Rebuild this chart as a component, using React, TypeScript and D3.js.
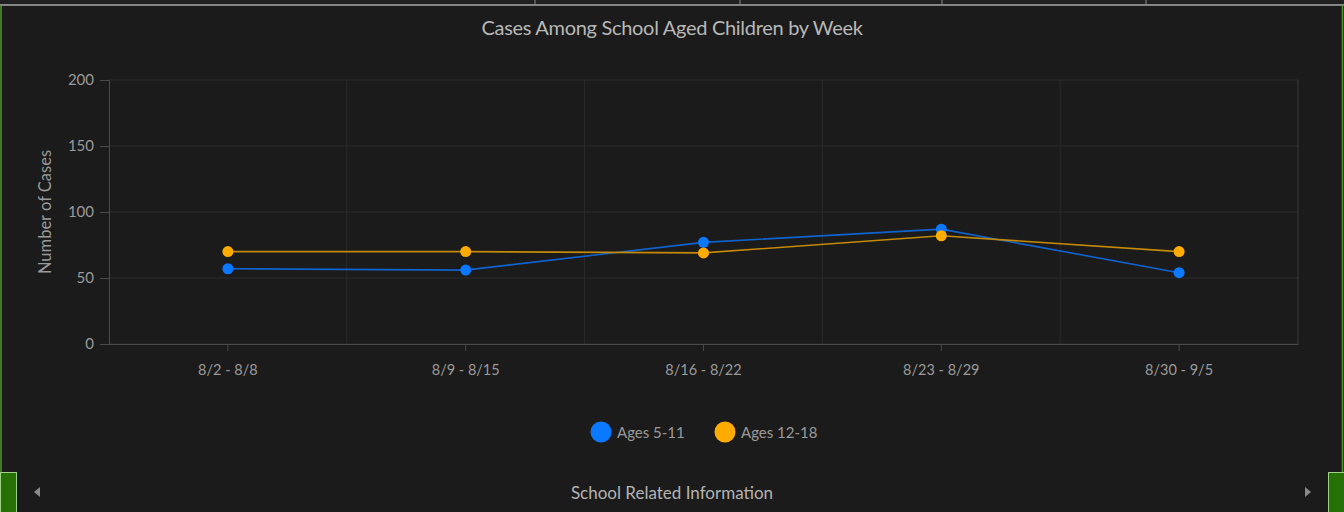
import React, { useEffect, useRef } from 'react';
import * as d3 from 'd3';

const weeks = ['8/2 - 8/8', '8/9 - 8/15', '8/16 - 8/22', '8/23 - 8/29', '8/30 - 9/5'];
const ages5to11 = [57, 56, 77, 87, 54];
const ages12to18 = [70, 70, 69, 82, 70];
const seriesNames = ['Ages 5-11', 'Ages 12-18'];
const yTicks = [0, 50, 100, 150, 200];

const W = 1344;
const H = 512;
const FONT = 'Lato, "Open Sans", sans-serif';

const App = () => {
  const ref = useRef(null);

  useEffect(() => {
    const svg = d3.select(ref.current);
    svg.selectAll('*').remove();

    const left = 109, right = 1298, top = 80, bottom = 344;

    svg.append('rect').attr('width', W).attr('height', H).attr('fill', '#1b1b1b');

    // top tab strip
    svg.append('rect').attr('width', W).attr('height', 5).attr('fill', '#202020');
    svg.append('line').attr('x1', 0).attr('x2', W).attr('y1', 5).attr('y2', 5)
      .attr('stroke', '#a8a8a8').attr('stroke-width', 1.5);
    [535, 740, 942, 1146].forEach(x => {
      svg.append('line').attr('x1', x).attr('x2', x).attr('y1', 0).attr('y2', 5)
        .attr('stroke', '#8a8a8a');
    });

    // green side borders
    svg.append('line').attr('x1', 1).attr('x2', 1).attr('y1', 5).attr('y2', 472)
      .attr('stroke', '#4f9a2a').attr('stroke-width', 1.5);
    svg.append('line').attr('x1', 1342.5).attr('x2', 1342.5).attr('y1', 5).attr('y2', 472)
      .attr('stroke', '#4f9a2a').attr('stroke-width', 1.5);
    svg.append('rect').attr('x', 0.5).attr('y', 472.5).attr('width', 16).attr('height', 40)
      .attr('fill', '#267006').attr('stroke', '#9fd08a').attr('stroke-width', 1);
    svg.append('rect').attr('x', 1328.5).attr('y', 472.5).attr('width', 16).attr('height', 40)
      .attr('fill', '#267006').attr('stroke', '#9fd08a').attr('stroke-width', 1);

    svg.append('text').attr('x', 672).attr('y', 35).attr('text-anchor', 'middle')
      .attr('font-family', FONT).attr('font-size', 20).attr('fill', '#b8b8b8')
      .attr('letter-spacing', -0.3)
      .text('Cases Among School Aged Children by Week');

    const x = d3.scaleBand().domain(weeks).range([left, right]);
    const y = d3.scaleLinear().domain([0, 200]).range([bottom, top]);

    const grid = svg.append('g');
    yTicks.forEach(t => {
      grid.append('line').attr('x1', left).attr('x2', right).attr('y1', y(t)).attr('y2', y(t))
        .attr('stroke', '#2d2d2d');
    });
    weeks.forEach(w => {
      const xe = x(w) + x.bandwidth();
      grid.append('line').attr('x1', xe).attr('x2', xe).attr('y1', top).attr('y2', bottom)
        .attr('stroke', xe > right - 2 ? '#3a3a3a' : '#2a2a2a');
    });

    const yAxis = svg.append('g').attr('transform', `translate(${left},0)`)
      .call(d3.axisLeft(y).tickValues(yTicks).tickSize(9).tickPadding(6));
    yAxis.select('.domain').attr('stroke', '#4a4a4a');
    yAxis.selectAll('line').attr('stroke', '#4a4a4a');
    yAxis.selectAll('text').attr('fill', '#9a9a9a').attr('font-size', 15).attr('font-family', FONT);

    const xAxis = svg.append('g').attr('transform', `translate(0,${bottom})`)
      .call(d3.axisBottom(x).tickSize(7).tickPadding(14).tickSizeOuter(0));
    xAxis.select('.domain').attr('stroke', '#4a4a4a');
    xAxis.selectAll('line').attr('stroke', '#4a4a4a');
    xAxis.selectAll('text').attr('fill', '#9a9a9a').attr('font-size', 14.5).attr('font-family', FONT);

    svg.append('text').attr('transform', `translate(51,${(top + bottom) / 2}) rotate(-90)`)
      .attr('text-anchor', 'middle').attr('font-family', FONT).attr('font-size', 16.5)
      .attr('fill', '#9a9a9a').text('Number of Cases');

    const cx = d => x(d) + x.bandwidth() / 2;
    const series = [
      { name: seriesNames[0], values: ages5to11, line: '#0f63d0', dot: '#0a78ff' },
      { name: seriesNames[1], values: ages12to18, line: '#c48a06', dot: '#ffab00' },
    ];
    const lineGen = d3.line().x(d => d[0]).y(d => d[1]);
    series.forEach(s => {
      const pts = s.values.map((v, i) => [cx(weeks[i]), y(v)]);
      svg.append('path').attr('d', lineGen(pts)).attr('fill', 'none')
        .attr('stroke', s.line).attr('stroke-width', 1.6);
      svg.append('g').selectAll('circle').data(pts).enter().append('circle')
        .attr('cx', d => d[0]).attr('cy', d => d[1]).attr('r', 5.5).attr('fill', s.dot);
    });

    // legend
    const legendX = [601, 725];
    series.forEach((s, i) => {
      svg.append('circle').attr('cx', legendX[i]).attr('cy', 432).attr('r', 10.5).attr('fill', s.dot);
      svg.append('text').attr('x', legendX[i] + 16).attr('y', 437.5)
        .attr('font-family', FONT).attr('font-size', 15).attr('fill', '#9a9a9a').text(s.name);
    });

    // footer
    svg.append('text').attr('x', 672).attr('y', 499).attr('text-anchor', 'middle')
      .attr('font-family', FONT).attr('font-size', 17).attr('fill', '#b4b4b4')
      .text('School Related Information');
    svg.append('path').attr('d', 'M40,487 L34,492 L40,497 Z').attr('fill', '#8a8a8a');
    svg.append('path').attr('d', 'M1305,487 L1311,492 L1305,497 Z').attr('fill', '#8a8a8a');
  }, []);

  return (
    <svg ref={ref} width={W} height={H} style={{ position: 'absolute', left: 0, top: 0, display: 'block' }} />
  );
};

export default App;
